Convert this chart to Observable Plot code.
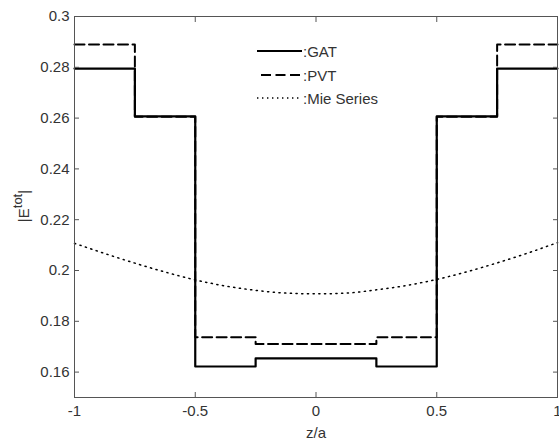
<!DOCTYPE html>
<html><head><meta charset="utf-8">
<script src="https://cdn.jsdelivr.net/npm/d3@7"></script>
<script src="https://cdn.jsdelivr.net/npm/@observablehq/plot@0.6"></script>
<style>
body{margin:0;background:#fff;}
#wrap{position:relative;width:559px;height:444px;font-family:"Liberation Sans",Arial,sans-serif;color:#333;overflow:hidden;}
#wrap svg.plot{position:absolute;left:0;top:0;}
.ov{position:absolute;white-space:nowrap;font-size:15px;line-height:15px;}
#xl{left:316px;top:425px;transform:translateX(-50%);}
#yl{left:23px;top:206px;transform:translate(-50%,-50%) rotate(-90deg);}
#yl sup{font-size:13px;vertical-align:7px;line-height:0;}
.leg{position:absolute;left:257px;display:flex;align-items:center;font-size:15px;height:20px;}
.leg svg{display:block;}
</style></head><body><div id="wrap"></div>
<script>
const zEdges = [-1, -0.75, -0.5, -0.25, 0.25, 0.5, 0.75, 1];
const gat = [0.2795, 0.2607, 0.1622, 0.1654, 0.1622, 0.2607, 0.2795];
const pvt = [0.289, 0.2605, 0.1737, 0.1711, 0.1737, 0.2605, 0.289];
const mieZ = [-1, -0.875, -0.75, -0.625, -0.5, -0.375, -0.25, -0.125, 0, 0.125, 0.25, 0.375, 0.5, 0.625, 0.75, 0.875, 1];
const mie = [0.2107, 0.2067, 0.2029, 0.1994, 0.1963, 0.1939, 0.1922, 0.1911, 0.1908, 0.1911, 0.1924, 0.1941, 0.1965, 0.1995, 0.2030, 0.2068, 0.2110];
const xTicks = [-1, -0.5, 0, 0.5, 1];
const yTicks = [0.16, 0.18, 0.2, 0.22, 0.24, 0.26, 0.28, 0.3];
const seriesNames = ["GAT", "PVT", "Mie Series"];
const xTitle = "z/a";

const steps = vals => zEdges.map((z, i) => ({z, v: vals[Math.min(i, vals.length - 1)]}));
const mieData = mieZ.map((z, i) => ({z, v: mie[i]}));
const fmt = d => String(d);

const plot = Plot.plot({
  width: 559, height: 444,
  marginLeft: 74, marginTop: 16, marginRight: 2, marginBottom: 47,
  style: {fontFamily: "'Liberation Sans', Arial, sans-serif", fontSize: "15px", color: "#333", background: "#fff"},
  x: {domain: [-1, 1]},
  y: {domain: [0.15, 0.3]},
  marks: [
    Plot.line(steps(pvt), {x: "z", y: "v", curve: "step-after", stroke: "#000", strokeWidth: 2, strokeDasharray: "10,4.5"}),
    Plot.line(steps(gat), {x: "z", y: "v", curve: "step-after", stroke: "#000", strokeWidth: 2.2}),
    Plot.line(mieData, {x: "z", y: "v", curve: "monotone-x", stroke: "#000", strokeWidth: 1.5, strokeDasharray: "1.2,4.5"}),
    Plot.frame({stroke: "#555"}),
    Plot.axisX(xTicks, {anchor: "bottom", tickSize: -5, fill: null, label: null, stroke: "#555"}),
    Plot.axisX(xTicks, {anchor: "top", tickSize: -5, fill: null, label: null, stroke: "#555"}),
    Plot.axisY(yTicks, {anchor: "left", tickSize: -5, fill: null, label: null, stroke: "#555"}),
    Plot.axisY(yTicks, {anchor: "right", tickSize: -5, fill: null, label: null, stroke: "#555"}),
    Plot.axisX(xTicks, {anchor: "bottom", tickSize: 0, tickPadding: 8, tickFormat: fmt, label: null, fill: "#333"}),
    Plot.axisY(yTicks, {anchor: "left", tickSize: 0, tickPadding: 5, tickFormat: fmt, label: null, fill: "#333"})
  ]
});
plot.classList.add("plot");
const wrap = document.getElementById("wrap");
wrap.appendChild(plot);

const xl = document.createElement("div");
xl.className = "ov"; xl.id = "xl"; xl.textContent = xTitle;
wrap.appendChild(xl);
const yl = document.createElement("div");
yl.className = "ov"; yl.id = "yl"; yl.innerHTML = "|E<sup>tot</sup>|";
wrap.appendChild(yl);

const legStyles = [
  {dash: null, w: 2.2, x1: 0},
  {dash: "10,4.5", w: 2, x1: 4},
  {dash: "1.4,3.6", w: 1.3, x1: 0}
];
const legY = [41, 65, 88];
seriesNames.forEach((name, i) => {
  const d = document.createElement("div");
  d.className = "leg";
  d.style.top = legY[i] + "px";
  const s = legStyles[i];
  d.innerHTML = `<svg width="46" height="20"><line x1="${s.x1}" x2="45" y1="10" y2="10" stroke="#000" stroke-width="${s.w}" ${s.dash ? `stroke-dasharray="${s.dash}"` : ""}/></svg><span>:${name}</span>`;
  wrap.appendChild(d);
});
</script>
</body></html>
